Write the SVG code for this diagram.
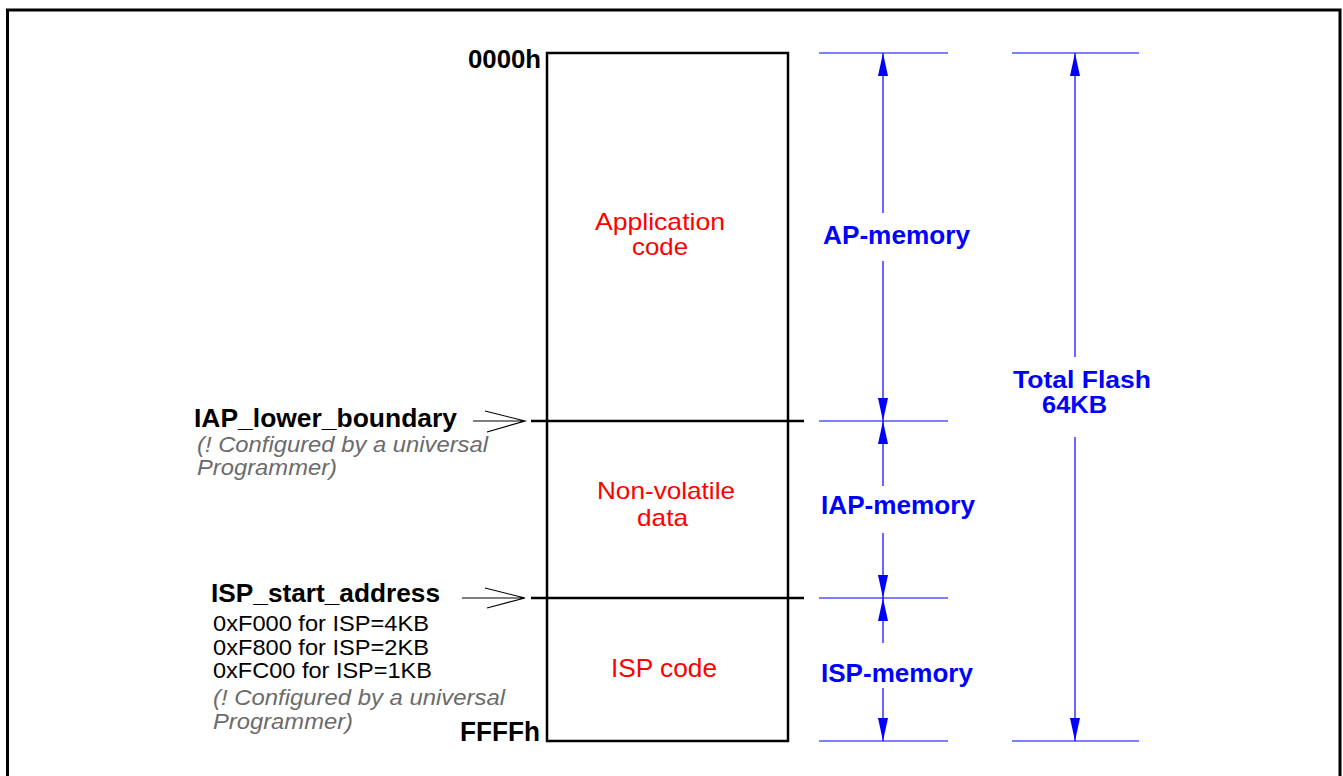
<svg xmlns="http://www.w3.org/2000/svg" width="1343" height="776" viewBox="0 0 1343 776">
<style>
  .bk { font-family: "Liberation Sans", Arial, sans-serif; font-weight: bold; fill: #000; }
  .gr { font-family: "Liberation Sans", Arial, sans-serif; font-style: italic; fill: #6b6b6b; }
  .nm { font-family: "Liberation Sans", Arial, sans-serif; fill: #000; }
  .rd { font-family: "Liberation Sans", Arial, sans-serif; fill: #ff0000; }
  .bl { font-family: "Liberation Sans", Arial, sans-serif; font-weight: bold; fill: #0000ff; }
  .box { fill: #fff; stroke: #000; stroke-width: 2.5; }
  .div { stroke: #000; stroke-width: 2.5; fill: none; }
  .ext { stroke: #0000ff; stroke-width: 1.2; fill: none; }
  .dim { stroke: #0000ff; stroke-width: 1.2; fill: none; marker-end: url(#ah); }
  .ptr { stroke: #000; stroke-width: 1.2; fill: none; }
</style>
<defs>
  <marker id="ah" markerUnits="userSpaceOnUse" viewBox="0 0 23 10" markerWidth="23" markerHeight="10" refX="23" refY="5" orient="auto">
    <path d="M0,0 L23,5 L0,10 z" fill="#0000ff"/>
  </marker>
</defs>
<rect width="1343" height="776" fill="#fff"/>
<g id="frame">
  <path d="M7.5,776 V10 H1340 V776" fill="none" stroke="#000" stroke-width="3"/>
</g>
<g id="memory-map">
  <rect class="box" x="547" y="53" width="241" height="688"/>
  <line class="div" x1="531" y1="421" x2="804" y2="421"/>
  <line class="div" x1="531" y1="598" x2="804" y2="598"/>
</g>
<g id="application-code">
  <text class="rd" font-size="24" x="595" y="230" textLength="130" lengthAdjust="spacingAndGlyphs">Application</text>
  <text class="rd" font-size="24" x="632" y="255" textLength="56" lengthAdjust="spacingAndGlyphs">code</text>
</g>
<g id="non-volatile-data">
  <text class="rd" font-size="24" x="597" y="499" textLength="138" lengthAdjust="spacingAndGlyphs">Non-volatile</text>
  <text class="rd" font-size="24" x="637" y="526" textLength="51" lengthAdjust="spacingAndGlyphs">data</text>
</g>
<g id="isp-code">
  <text class="rd" font-size="25" x="611" y="677" textLength="106" lengthAdjust="spacingAndGlyphs">ISP code</text>
</g>
<g id="addr-0000h">
  <text class="bk" font-size="26" x="468" y="68" textLength="73" lengthAdjust="spacingAndGlyphs">0000h</text>
</g>
<g id="addr-ffffh">
  <text class="bk" font-size="27" x="460" y="741" textLength="80" lengthAdjust="spacingAndGlyphs">FFFFh</text>
</g>
<g id="iap-lower-boundary">
  <text class="bk" font-size="25" x="194" y="427" textLength="263" lengthAdjust="spacingAndGlyphs">IAP_lower_boundary</text>
  <text class="gr" font-size="22" x="197" y="452" textLength="291" lengthAdjust="spacingAndGlyphs">(! Configured by a universal</text>
  <text class="gr" font-size="22" x="197" y="475" textLength="140" lengthAdjust="spacingAndGlyphs">Programmer)</text>
</g>
<g id="isp-start-address">
  <text class="bk" font-size="25" x="211" y="602" textLength="229" lengthAdjust="spacingAndGlyphs">ISP_start_address</text>
  <text class="nm" font-size="22.5" x="213" y="631" textLength="216" lengthAdjust="spacingAndGlyphs">0xF000 for ISP=4KB</text>
  <text class="nm" font-size="22.5" x="213" y="655" textLength="216" lengthAdjust="spacingAndGlyphs">0xF800 for ISP=2KB</text>
  <text class="nm" font-size="22.5" x="213" y="678" textLength="219" lengthAdjust="spacingAndGlyphs">0xFC00 for ISP=1KB</text>
  <text class="gr" font-size="22" x="213" y="705" textLength="292" lengthAdjust="spacingAndGlyphs">(! Configured by a universal</text>
  <text class="gr" font-size="22" x="213" y="729" textLength="140" lengthAdjust="spacingAndGlyphs">Programmer)</text>
</g>
<g id="ap-memory">
  <text class="bl" font-size="25.5" x="823" y="244" textLength="147" lengthAdjust="spacingAndGlyphs">AP-memory</text>
</g>
<g id="iap-memory">
  <text class="bl" font-size="25.5" x="821" y="514" textLength="154" lengthAdjust="spacingAndGlyphs">IAP-memory</text>
</g>
<g id="isp-memory">
  <text class="bl" font-size="25.5" x="821" y="682" textLength="152" lengthAdjust="spacingAndGlyphs">ISP-memory</text>
</g>
<g id="total-flash">
  <text class="bl" font-size="24" x="1013" y="388" textLength="138" lengthAdjust="spacingAndGlyphs">Total Flash</text>
  <text class="bl" font-size="24" x="1042" y="413" textLength="65" lengthAdjust="spacingAndGlyphs">64KB</text>
</g>
<g id="connectors">
  <path class="ptr" d="M473,421 H525 M485,411 L525,421 L487,432"/>
  <path class="ptr" d="M462,598 H525 M485,588 L525,598 L487,608"/>
  <line class="ext" x1="819" y1="53" x2="948" y2="53"/>
  <line class="ext" x1="819" y1="421" x2="948" y2="421"/>
  <line class="ext" x1="819" y1="598" x2="948" y2="598"/>
  <line class="ext" x1="819" y1="741" x2="948" y2="741"/>
  <line class="ext" x1="1012" y1="53" x2="1139" y2="53"/>
  <line class="ext" x1="1012" y1="741" x2="1139" y2="741"/>
  <line class="dim" x1="883" y1="213" x2="883" y2="53"/>
  <line class="dim" x1="883" y1="261" x2="883" y2="421"/>
  <line class="dim" x1="883" y1="486" x2="883" y2="421"/>
  <line class="dim" x1="883" y1="533" x2="883" y2="598"/>
  <line class="dim" x1="883" y1="643" x2="883" y2="598"/>
  <line class="dim" x1="883" y1="688" x2="883" y2="741"/>
  <line class="dim" x1="1075" y1="357" x2="1075" y2="53"/>
  <line class="dim" x1="1075" y1="437" x2="1075" y2="741"/>
</g>
</svg>
